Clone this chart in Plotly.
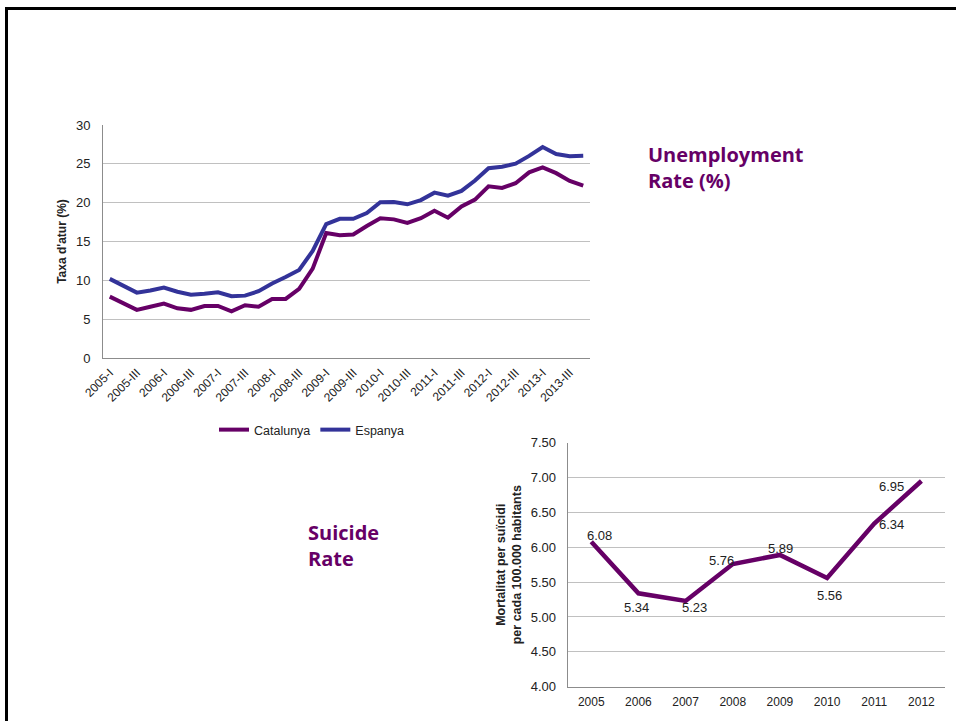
import plotly.graph_objects as go

# Quarterly unemployment rate (%), 2005-I .. 2013-IV
years = list(range(2005, 2014))
roman = ["I", "II", "III", "IV"]
quarters = [f"{y}-{q}" for y in years for q in roman]

catalunya = [7.9, 7.0, 6.2, 6.6, 7.0, 6.4, 6.2, 6.7, 6.7, 6.0, 6.8, 6.6,
             7.6, 7.6, 8.9, 11.5, 16.1, 15.8, 15.9, 17.0, 18.0, 17.85, 17.4, 18.0,
             18.97, 18.07, 19.5, 20.4, 22.1, 21.9, 22.5, 23.9, 24.55, 23.8, 22.8, 22.2]
espanya = [10.19, 9.33, 8.42, 8.70, 9.07, 8.53, 8.15, 8.26, 8.47, 7.95, 8.03, 8.60,
           9.60, 10.43, 11.33, 13.79, 17.24, 17.92, 17.93, 18.66, 20.05, 20.09, 19.79, 20.33,
           21.29, 20.89, 21.52, 22.85, 24.44, 24.63, 25.02, 26.02, 27.16, 26.26, 25.98, 26.03]

# Suicide mortality per 100,000 inhabitants
suicide_years = ["2005", "2006", "2007", "2008", "2009", "2010", "2011", "2012"]
suicide_rate = [6.08, 5.34, 5.23, 5.76, 5.89, 5.56, 6.34, 6.95]
# label offsets (px) for each data label
label_dx = [8, -2, 9, -11, 1, 2, 17, -30]
label_dy = [6, -14, -7, 4, 6, -18, -1, -5]

W, H = 956, 721
PURPLE = "#660066"
BLUE = "#333399"
TXT = "#222222"
GRID = "#c0c0c0"
AXIS = "#8c8c8c"
FONT = "Liberation Sans, Arial, sans-serif"


def px_x(p):
    return p / W


def px_y(p):
    return 1 - p / H


fig = go.Figure()

fig.add_trace(go.Scatter(x=quarters, y=catalunya, name="Catalunya", mode="lines",
                         line=dict(color=PURPLE, width=4), xaxis="x", yaxis="y"))
fig.add_trace(go.Scatter(x=quarters, y=espanya, name="Espanya", mode="lines",
                         line=dict(color=BLUE, width=4), xaxis="x", yaxis="y"))
fig.add_trace(go.Scatter(x=suicide_years, y=suicide_rate, mode="lines", showlegend=False,
                         line=dict(color=PURPLE, width=4.5), xaxis="x2", yaxis="y2"))

annotations = []
for i, (v, dx, dy) in enumerate(zip(suicide_rate, label_dx, label_dy)):
    annotations.append(dict(x=i, y=v, xref="x2", yref="y2", text=f"{v:.2f}",
                            showarrow=False, xshift=dx, yshift=dy,
                            font=dict(family=FONT, size=13, color=TXT)))

title_font = dict(family="Open Sans, Lato, sans-serif", size=20, color=PURPLE)
annotations.append(dict(x=px_x(646), y=px_y(139), xref="paper", yref="paper",
                        xanchor="left", yanchor="top", align="left", showarrow=False,
                        text="<b>Unemployment<br>Rate (%)</b>", font=title_font))
annotations.append(dict(x=px_x(306), y=px_y(517), xref="paper", yref="paper",
                        xanchor="left", yanchor="top", align="left", showarrow=False,
                        text="<b>Suicide<br>Rate</b>", font=title_font))

shapes = [
    dict(type="line", xref="paper", yref="paper", x0=px_x(5), x1=1.0,
         y0=px_y(8.5), y1=px_y(8.5), line=dict(color="black", width=3)),
    dict(type="line", xref="paper", yref="paper", x0=px_x(6.5), x1=px_x(6.5),
         y0=px_y(7), y1=0, line=dict(color="black", width=3)),
]

fig.update_layout(
    template="none",
    width=W, height=H,
    margin=dict(l=0, r=0, t=0, b=0, pad=0, autoexpand=False),
    paper_bgcolor="white", plot_bgcolor="white",
    font=dict(family=FONT, size=12, color=TXT),
    showlegend=True,
    legend=dict(orientation="h", x=px_x(312), y=px_y(430), xanchor="center", yanchor="middle",
                font=dict(family=FONT, size=12.5, color=TXT), itemwidth=30,
                bgcolor="rgba(0,0,0,0)"),
    xaxis=dict(domain=[px_x(103), px_x(590)], anchor="y", type="category", automargin=False,
               range=[-0.5, len(quarters) - 0.5],
               tickvals=quarters[::2], ticktext=quarters[::2], tickangle=-45,
               tickfont=dict(size=12, color=TXT), showgrid=False, ticklabelstandoff=2,
               showline=True, linecolor=AXIS, linewidth=1, ticks=""),
    yaxis=dict(domain=[px_y(358), px_y(125)], anchor="x", range=[0, 30], dtick=5,
               automargin=False, ticklabelstandoff=9,
               tickfont=dict(size=13, color=TXT), showgrid=True, gridcolor=GRID, gridwidth=1,
               showline=True, linecolor=AXIS, linewidth=1, zeroline=False, ticks="",
               title=dict(text="<b>Taxa d'atur (%)</b>", font=dict(size=12, color=TXT), standoff=6)),
    xaxis2=dict(domain=[px_x(567.7), px_x(945)], anchor="y2", type="category", automargin=False,
                range=[-0.5, len(suicide_years) - 0.5], ticklabelstandoff=4,
                tickfont=dict(size=12, color=TXT), showgrid=False,
                showline=True, linecolor=AXIS, linewidth=1, ticks=""),
    yaxis2=dict(domain=[px_y(686.7), px_y(442.7)], anchor="x2", range=[4, 7.5], dtick=0.5,
                automargin=False, ticklabelstandoff=8,
                tickformat=".2f", tickfont=dict(size=13, color=TXT), showgrid=True,
                gridcolor=GRID, gridwidth=1, showline=True, linecolor=AXIS, linewidth=1,
                zeroline=False, ticks="",
                title=dict(text="<b>Mortalitat per suïcidi<br>per cada 100.000 habitants</b>",
                           font=dict(size=12.5, color=TXT), standoff=6)),
    annotations=annotations,
    shapes=shapes,
)

fig.write_html("out.html")
